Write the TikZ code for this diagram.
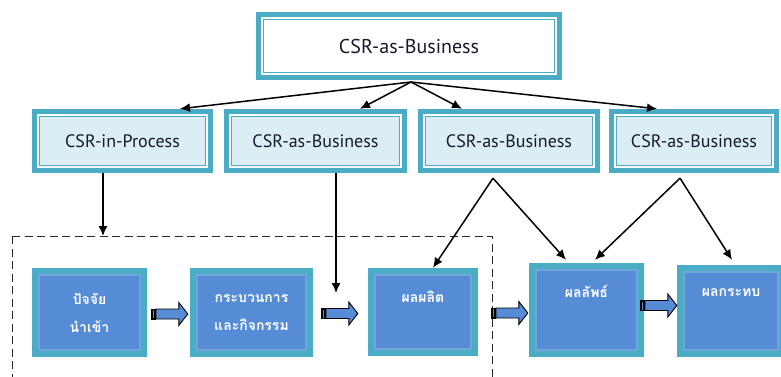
\documentclass[tikz,border=0pt]{standalone}
\usepackage{fontspec}
\setmainfont{PT Sans}
\newfontfamily\thaifont[Script=Thai]{Loma}
\usetikzlibrary{arrows.meta,calc}

\definecolor{tealband}{RGB}{75,172,198}
\definecolor{paleblue}{RGB}{218,238,243}
\definecolor{stageblue}{RGB}{85,140,213}
\definecolor{stageedge}{RGB}{112,166,216}
\definecolor{labelink}{RGB}{25,25,45}

\tikzset{
  % framed header box: thick teal band, white gap, thin teal rule, filled inside
  headbox/.style={
    fill=tealband, inner sep=0pt, text=labelink,
    path picture={
      \fill[white] ([shift={(5pt,-5pt)}]path picture bounding box.north west)
        rectangle ([shift={(-5pt,5pt)}]path picture bounding box.south east);
      \filldraw[fill=#1, draw=tealband, line width=1.5pt]
        ([shift={(7.5pt,-7.5pt)}]path picture bounding box.north west)
        rectangle ([shift={(-7.5pt,7.5pt)}]path picture bounding box.south east);
    }},
  % stage box: teal band around a blue panel
  stagebox/.style={
    fill=tealband, inner sep=0pt, text=white,
    font=\thaifont\bfseries\fontsize{14}{28}\selectfont, align=center,
    path picture={
      \filldraw[fill=stageblue, draw=stageedge, line width=2pt]
        ([shift={(7pt,-7pt)}]path picture bounding box.north west)
        rectangle ([shift={(-7pt,7pt)}]path picture bounding box.south east);
    }},
  stagetext/.style={text=white, inner sep=0pt,
    font=\thaifont\bfseries\fontsize{14}{28}\selectfont},
  thinarrow/.style={draw=black, line width=1.5pt,
    -{Latex[length=10pt,width=9pt]}},
  frameline/.style={draw=black!85, line width=1pt, dash pattern=on 8pt off 4.5pt},
  blockarrow/.pic={
    \filldraw[fill=stageblue, draw=black, line width=0.9pt]
      (-32,-5) -- (-9,-5) -- (-9,-11.5) -- (0,0) -- (-9,11.5) -- (-9,5) -- (-32,5) -- cycle;
    \fill[black] (-37,-5.5) rectangle (-32,5.5);
    \draw[stageblue, line width=1pt] (-34.5,-4) -- (-34.5,4);
  }
}

\begin{document}
\begin{tikzpicture}[x=1pt, y=-1pt]
\useasboundingbox (0,0) rectangle (781,376);

% dashed frame around the internal stages
\coordinate (frameNW) at (12,236);
\draw[frameline] (frameNW) -- (492,236) -- (492,392) (12,236) -- (12,392);

% top level
\node[headbox=white, minimum width=306pt, minimum height=68pt,
      font=\fontsize{20}{24}\selectfont] (top) at (409,46) {CSR-as-Business};

% second row
\begin{scope}[font=\fontsize{18}{22}\selectfont]
\node[headbox=paleblue, minimum width=181pt, minimum height=64pt] (r1) at (122.5,141) {CSR-in-Process};
\node[headbox=paleblue, minimum width=183pt, minimum height=64pt] (r2) at (315.5,141) {CSR-as-Business};
\node[headbox=paleblue, minimum width=182pt, minimum height=64pt] (r3) at (509,141) {CSR-as-Business};
\node[headbox=paleblue, minimum width=170pt, minimum height=64pt] (r4) at (694,141) {CSR-as-Business};
\end{scope}

% stage row
\node[stagebox, minimum width=115pt, minimum height=89pt] (b1) at (89.5,312.5) {ปัจจัย\\นำเข้า};
\node[stagebox, minimum width=123pt, minimum height=89pt] (b2) at (251.5,312.5) {กระบวนการ\\และกิจกรรม};
\node[stagebox, minimum width=110pt, minimum height=88pt] (b3) at (423,312) {};
\node[stagebox, minimum width=115pt, minimum height=94pt] (b4) at (586.5,310) {};
\node[stagebox, minimum width=108pt, minimum height=92pt] (b5) at (731,311) {};
\node[stagetext] (t3) at ([yshift=-29pt]b3.north) {ผลผลิต};
\node[stagetext] (t4) at ([yshift=-29pt]b4.north) {ผลลัพธ์};
\node[stagetext] (t5) at ([yshift=-28pt]b5.north) {ผลกระทบ};

% fan-out from the top box
\coordinate (fan) at (411,82);
\draw[thinarrow] (fan) -- ([xshift=57.5pt]r1.north);
\draw[thinarrow] (fan) -- ([xshift=44.5pt]r2.north);
\draw[thinarrow] (fan) -- ([xshift=-47pt]r3.north);
\draw[thinarrow] (fan) -- ([xshift=-37pt]r4.north);

% drops into the stage row
\draw[thinarrow] ([xshift=-19.5pt]r1.south) -- ([xshift=-19.5pt]r1.south |- frameNW);
\coordinate (r2drop) at (336,293);
\draw[thinarrow] ([xshift=20.5pt]r2.south) -- (r2drop);
\draw[thinarrow] ([shift={(-16pt,-5pt)}]r3.south) -- ([xshift=10pt]b3.north);
\draw[thinarrow] ([shift={(-16pt,-5pt)}]r3.south) -- ([shift={(-20.5pt,3pt)}]b4.north);
\draw[thinarrow] ([shift={(-14pt,-5pt)}]r4.south) -- ([shift={(8.5pt,3pt)}]b4.north);
\draw[thinarrow] ([shift={(-14pt,-5pt)}]r4.south) -- ([shift={(1pt,5pt)}]b5.north);

% block arrows between stages
\pic at ([shift={(-2pt,-1.5pt)}]b2.west) {blockarrow};
\pic at ([shift={(-10pt,-1.5pt)}]b3.west) {blockarrow};
\pic at ([shift={(-1pt,-3pt)}]b4.west) {blockarrow};
\pic at ([shift={(0pt,5.5pt)}]b5.west) {blockarrow};
\end{tikzpicture}
\end{document}
